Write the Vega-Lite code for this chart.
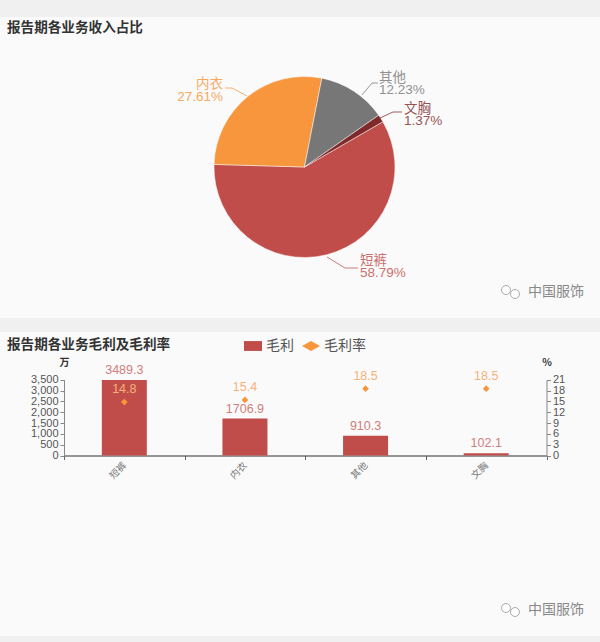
{
"$schema":"https://vega.github.io/schema/vega-lite/v6.json",
"background":"#f0f0f0",
"padding":{"top":17,"left":-4,"right":0,"bottom":6},
"bounds":"flush",
"spacing":14,
"resolve":{"scale":{"color":"independent","shape":"independent"},"legend":{"color":"independent","shape":"independent"}},
"config":{"view":{"stroke":null,"fill":"#fafafa"},"font":"Liberation Sans","title":{"font":"Noto Sans CJK SC","fontSize":13.6,"fontWeight":"bold","color":"#333"}},
"datasets":{
"share":[{"cat":"短裤","share":58.79,"o":1},{"cat":"内衣","share":27.61,"o":2},{"cat":"其他","share":12.23,"o":3},{"cat":"文胸","share":1.37,"o":4}],
"leaders":[
{"cat":"短裤","u":327,"v":240},{"cat":"短裤","u":345,"v":251},{"cat":"短裤","u":358,"v":251},
{"cat":"内衣","u":247,"v":79},{"cat":"内衣","u":232,"v":71},{"cat":"内衣","u":225,"v":71},
{"cat":"其他","u":362,"v":78},{"cat":"其他","u":372,"v":66},{"cat":"其他","u":378,"v":66},
{"cat":"文胸","u":380,"v":101},{"cat":"文胸","u":393,"v":95},{"cat":"文胸","u":402,"v":95}],
"labels":[
{"cat":"短裤","t":"短裤\n58.79%","u":360,"v":243.5,"a":"l"},
{"cat":"内衣","t":"内衣\n27.61%","u":223,"v":67,"a":"r"},
{"cat":"其他","t":"其他\n12.23%","u":379,"v":60.5,"a":"l"},
{"cat":"文胸","t":"文胸\n1.37%","u":404,"v":91.5,"a":"l"}],
"bars":[{"cat":"短裤","profit":3489.3,"rate":14.8},{"cat":"内衣","profit":1706.9,"rate":15.4},{"cat":"其他","profit":910.3,"rate":18.5},{"cat":"文胸","profit":102.1,"rate":18.5}],
"keys":[{"cat":"短裤","series":"毛利","rate":0},{"cat":"短裤","series":"毛利率","rate":0}]
},
"vconcat":[
{"width":600,"height":301,
"title":{"text":"报告期各业务收入占比","anchor":"start","frame":"group","offset":-18,"dx":7},
"layer":[
{"data":{"name":"share"},"mark":{"type":"arc","x":304.5,"y":150,"outerRadius":90.5,"stroke":"#fafafa","strokeWidth":0.5},
"encoding":{"theta":{"field":"share","type":"quantitative","stack":true,"scale":{"range":[1.0472,7.3304]}},"order":{"field":"o"},
"color":{"field":"cat","type":"nominal","legend":null,"scale":{"domain":["短裤","内衣","其他","文胸"],"range":["#c14d4a","#f7963c","#777777","#7f2a2a"]}}}},
{"data":{"name":"leaders"},"mark":{"type":"line","strokeWidth":1,"opacity":0.75},
"encoding":{"x":{"field":"u","type":"quantitative","axis":null,"scale":{"domain":[0,600]}},"y":{"field":"v","type":"quantitative","axis":null,"scale":{"domain":[301,0]}},"detail":{"field":"cat"},"order":{"field":"u"},
"color":{"field":"cat","type":"nominal","legend":null,"scale":{"domain":["短裤","内衣","其他","文胸"],"range":["#c14d4a","#f7963c","#777777","#7f2a2a"]}}}},
{"data":{"name":"labels"},"transform":[{"filter":"datum.a==='l'"}],"mark":{"type":"text","align":"left","baseline":"middle","fontSize":13.5,"lineBreak":"\n","lineHeight":12.5,"font":"Liberation Sans, Noto Sans CJK SC","opacity":0.8},
"encoding":{"x":{"field":"u","type":"quantitative","axis":null,"scale":{"domain":[0,600]}},"y":{"field":"v","type":"quantitative","axis":null,"scale":{"domain":[301,0]}},"text":{"field":"t"},
"color":{"field":"cat","type":"nominal","legend":null,"scale":{"domain":["短裤","内衣","其他","文胸"],"range":["#c14d4a","#f7963c","#777777","#7f2a2a"]}}}},
{"data":{"name":"labels"},"transform":[{"filter":"datum.a==='r'"}],"mark":{"type":"text","align":"right","baseline":"middle","fontSize":13.5,"lineBreak":"\n","lineHeight":12.5,"font":"Liberation Sans, Noto Sans CJK SC","opacity":0.8},
"encoding":{"x":{"field":"u","type":"quantitative","axis":null,"scale":{"domain":[0,600]}},"y":{"field":"v","type":"quantitative","axis":null,"scale":{"domain":[301,0]}},"text":{"field":"t"},
"color":{"field":"cat","type":"nominal","legend":null,"scale":{"domain":["短裤","内衣","其他","文胸"],"range":["#c14d4a","#f7963c","#777777","#7f2a2a"]}}}},
{"data":{"values":[{"t":"中国服饰","u":528,"v":275}]},"mark":{"type":"text","align":"left","baseline":"middle","fontSize":14,"font":"Noto Sans CJK SC","color":"#888888"},
"encoding":{"x":{"field":"u","type":"quantitative","axis":null,"scale":{"domain":[0,600]}},"y":{"field":"v","type":"quantitative","axis":null,"scale":{"domain":[301,0]}},"text":{"field":"t"}}},
{"data":{"values":[{"u":506,"v":273,"s":80},{"u":515,"v":277,"s":80}]},"mark":{"type":"point","shape":"circle","filled":true,"fill":"#ffffff","stroke":"#aaaaaa","strokeWidth":1,"opacity":1},
"encoding":{"x":{"field":"u","type":"quantitative","axis":null,"scale":{"domain":[0,600]}},"y":{"field":"v","type":"quantitative","axis":null,"scale":{"domain":[301,0]}},"size":{"field":"s","type":"quantitative","legend":null,"scale":null}}}
]},
{"width":600,"height":304,
"title":{"text":"报告期各业务毛利及毛利率","anchor":"start","frame":"group","offset":-20,"dx":7},
"resolve":{"scale":{"x":"independent","y":"independent"}},
"layer":[
{"data":{"name":"keys"},"mark":{"type":"point","filled":true,"size":0,"opacity":1},
"encoding":{"x":{"field":"cat","type":"nominal","sort":null,"scale":{"domain":["短裤","内衣","其他","文胸"],"range":[64,546.5],"paddingInner":0,"paddingOuter":0},"axis":null},
"y":{"field":"rate","type":"quantitative","scale":{"domain":[0,21],"range":[123.5,47.7]},"axis":null},
"color":{"field":"series","type":"nominal","scale":{"domain":["毛利","毛利率"],"range":["#c14d4a","#f7963c"]},"title":null,"legend":{"orient":"none","legendX":244,"legendY":5,"direction":"horizontal","symbolSize":324,"labelFontSize":14,"labelFont":"Noto Sans CJK SC","labelColor":"#555","columnPadding":8,"labelOffset":4,"symbolStrokeWidth":0,"symbolOpacity":1}},
"shape":{"field":"series","type":"nominal","scale":{"domain":["毛利","毛利率"],"range":["M-1,-0.55H1V0.55H-1Z","M-1,0L0,-0.55L1,0L0,0.55Z"]},"title":null,"legend":{"orient":"none","legendX":244,"legendY":5,"direction":"horizontal","symbolSize":324,"labelFontSize":14,"labelFont":"Noto Sans CJK SC","labelColor":"#555","columnPadding":8,"labelOffset":4,"symbolStrokeWidth":0,"symbolOpacity":1}}}},
{"data":{"name":"bars"},"transform":[{"calculate":"'毛利'","as":"series"}],"mark":{"type":"bar","width":45},
"encoding":{"x":{"field":"cat","type":"nominal","sort":null,"scale":{"range":[64,546.5],"paddingInner":0,"paddingOuter":0},"axis":{"title":null,"offset":-180.5,"labelAngle":-45,"labelFontSize":9.5,"labelFont":"Noto Sans CJK SC","labelColor":"#777","tickBand":"extent","tickSize":4,"tickColor":"#666","domainColor":"#333","labelPadding":4,"labelAlign":"right","labelBaseline":"middle"}},
"y":{"field":"profit","type":"quantitative","scale":{"domain":[0,3500],"range":[123.5,47.7]},"axis":{"title":"万","titleAngle":0,"titleFont":"Noto Sans CJK SC","titleFontSize":10,"titleFontWeight":"bold","titleColor":"#333","titleX":0,"titleY":35,"titleAlign":"center","offset":-64,"values":[0,500,1000,1500,2000,2500,3000,3500],"format":",d","grid":false,"labelOverlap":false,"labelFontSize":11,"labelColor":"#555","domainColor":"#888","tickColor":"#888","tickSize":4,"labelPadding":2}},
"fill":{"value":"#c14d4a"}}},
{"data":{"name":"bars"},"mark":{"type":"text","baseline":"bottom","dy":-3,"fontSize":12.5,"color":"#cf7f7d"},
"encoding":{"x":{"field":"cat","type":"nominal","sort":null,"scale":{"range":[64,546.5],"paddingInner":0,"paddingOuter":0},"axis":null},
"y":{"field":"profit","type":"quantitative","scale":{"domain":[0,3500],"range":[123.5,47.7]},"axis":null},"text":{"field":"profit","format":".1f"}}},
{"data":{"name":"bars"},"mark":{"type":"point","shape":"diamond","filled":true,"size":45,"opacity":1,"fill":"#f7963c"},
"encoding":{"x":{"field":"cat","type":"nominal","sort":null,"scale":{"range":[64,546.5],"paddingInner":0,"paddingOuter":0},"axis":null},
"y":{"field":"rate","type":"quantitative","scale":{"domain":[0,21],"range":[123.5,47.7]},"axis":{"title":"%","orient":"right","titleAngle":0,"titleFont":"Noto Sans CJK SC","titleFontSize":10,"titleFontWeight":"bold","titleColor":"#333","titleX":0,"titleY":35,"titleAlign":"center","offset":-53.5,"values":[0,3,6,9,12,15,18,21],"grid":false,"labelOverlap":false,"labelFontSize":11,"labelColor":"#555","domainColor":"#888","tickColor":"#888","tickSize":4,"labelPadding":2}}}},
{"data":{"name":"bars"},"mark":{"type":"text","baseline":"bottom","dy":-6,"fontSize":12.5,"color":"#f7b27a"},
"encoding":{"x":{"field":"cat","type":"nominal","sort":null,"scale":{"range":[64,546.5],"paddingInner":0,"paddingOuter":0},"axis":null},
"y":{"field":"rate","type":"quantitative","scale":{"domain":[0,21],"range":[123.5,47.7]},"axis":null},"text":{"field":"rate","format":".1f"}}},
{"data":{"values":[{"t":"中国服饰","u":528,"v":278}]},"mark":{"type":"text","align":"left","baseline":"middle","fontSize":14,"font":"Noto Sans CJK SC","color":"#888888"},
"encoding":{"x":{"field":"u","type":"quantitative","axis":null,"scale":{"domain":[0,600],"range":[0,600]}},"y":{"field":"v","type":"quantitative","axis":null,"scale":{"domain":[304,0],"range":[304,0]}},"text":{"field":"t"}}},
{"data":{"values":[{"u":506,"v":276,"s":80},{"u":515,"v":280,"s":80}]},"mark":{"type":"point","shape":"circle","filled":true,"fill":"#ffffff","stroke":"#aaaaaa","strokeWidth":1,"opacity":1},
"encoding":{"x":{"field":"u","type":"quantitative","axis":null,"scale":{"domain":[0,600],"range":[0,600]}},"y":{"field":"v","type":"quantitative","axis":null,"scale":{"domain":[304,0],"range":[304,0]}},"size":{"field":"s","type":"quantitative","legend":null,"scale":null}}}
]}
]
}
